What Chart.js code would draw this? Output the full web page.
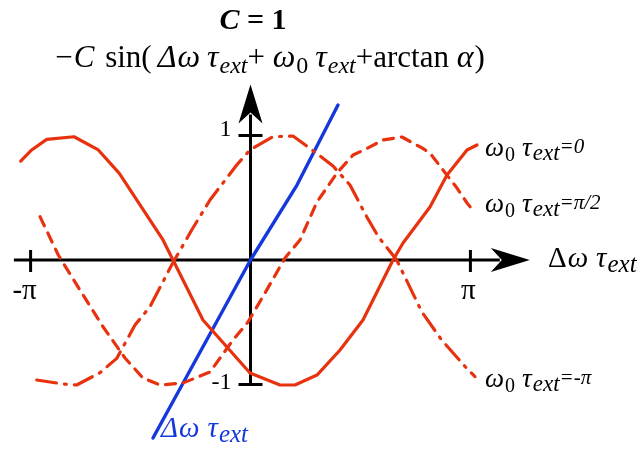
<!DOCTYPE html>
<html>
<head>
<meta charset="utf-8">
<script src="https://cdn.jsdelivr.net/npm/chart.js@4/dist/chart.umd.min.js"></script>
<style>
  html, body { margin: 0; padding: 0; background: #fff; }
  #wrap { width: 640px; height: 450px; }
</style>
</head>
<body>
<div id="wrap"><canvas id="chart" width="640" height="450"></canvas></div>
<script>
// phase curves -C sin(dw*t + w0*t + arctan a), C = 1, sampled as coarse polylines
const phaseZeroX = [-3.283, -3.126, -2.911, -2.521, -2.174, -1.874, -1.25, -1.107, -0.679, -0.007, 0.421, 0.636, 0.95, 1.279, 1.607, 2.036, 2.179, 2.564, 2.807, 3.093, 3.236];
const phaseZeroY = [0.795, 0.884, 0.969, 0.99, 0.884, 0.696, 0.161, 0, -0.482, -0.908, -1.004, -1.004, -0.924, -0.723, -0.482, 0, 0.137, 0.426, 0.683, 0.884, 0.924];

const phaseHalfPiX = [-3.007, -2.746, -2.436, -2.107, -1.793, -1.536, -1.293, -0.964, -0.579, -0.25, -0.036, 0.207, 0.493, 0.707, 0.95, 1.236, 1.464, 1.679, 1.893, 2.164, 2.45, 2.564, 2.75, 2.95, 3.093, 3.164];
const phaseHalfPiY = [0.348, 0.04, -0.241, -0.536, -0.787, -0.948, -1.004, -0.988, -0.9, -0.643, -0.498, -0.265, 0.016, 0.161, 0.466, 0.699, 0.843, 0.9, 0.964, 0.988, 0.9, 0.859, 0.723, 0.578, 0.458, 0.41];

const phaseMinusPiX = [-3.054, -2.674, -2.483, -2.15, -1.911, -1.65, -1.436, -1.126, -0.84, -0.579, -0.197, -0.007, 0.321, 0.607, 0.85, 1.179, 1.421, 1.66, 1.826, 2.089, 2.446, 2.731, 3.089, 3.207];
const phaseMinusPiY = [-0.964, -0.996, -1.004, -0.905, -0.79, -0.522, -0.375, -0.04, 0.241, 0.482, 0.763, 0.884, 0.99, 0.996, 0.897, 0.755, 0.602, 0.348, 0.187, 0, -0.415, -0.643, -0.87, -0.937];

// the straight line dw*t
const detuneX = [-1.393, 0, 0.664, 1.25];
const detuneY = [-1.43, 0, 0.602, 1.245];

const xTicks = [-Math.PI, Math.PI];
const xTickLabels = ['-π', 'π'];
const yTicks = [1, -1];
const yTickLabels = ['1', '-1'];

const RED = '#e8320f';
const BLUE = '#1438dc';
const SERIF = '"Liberation Serif", "DejaVu Serif", serif';

function toPoints(xs, ys) {
  return xs.map((x, i) => ({ x: x, y: ys[i] }));
}

// draws a run of text pieces, each with its own font and baseline shift
function drawRich(ctx, x, y, pieces, align, color) {
  ctx.save();
  ctx.fillStyle = color || '#000';
  ctx.textBaseline = 'alphabetic';
  ctx.textAlign = 'left';
  let total = 0;
  pieces.forEach(p => {
    ctx.font = p.font;
    p.w = ctx.measureText(p.text).width;
    total += p.w + (p.gap || 0);
  });
  let cx = x;
  if (align === 'center') cx = x - total / 2;
  if (align === 'right') cx = x - total;
  pieces.forEach(p => {
    ctx.font = p.font;
    ctx.fillText(p.text, cx, y + (p.dy || 0));
    cx += p.w + (p.gap || 0);
  });
  ctx.restore();
}

const it = s => 'italic ' + s + 'px ' + SERIF;
const rm = s => s + 'px ' + SERIF;

function phaseLabel(value) {
  return [
    { text: 'ω', font: it(27), gap: 1 },
    { text: '0', font: rm(20), dy: 5, gap: 7 },
    { text: 'τ', font: it(27), gap: 1 },
    { text: 'ext', font: it(23), dy: 4 },
    { text: '=' + value, font: it(21), dy: -3 }
  ];
}

function detuneLabel() {
  return [
    { text: 'ω', font: it(29), gap: 8 },
    { text: 'τ', font: it(29), gap: 1 },
    { text: 'ext', font: it(25), dy: 5 }
  ];
}

function arrowHead(ctx, tip, dir) {
  // stealth-style head pointing along dir (unit vector)
  const len = 39, half = 12, notch = 28;
  const nx = -dir.y, ny = dir.x;
  ctx.beginPath();
  ctx.moveTo(tip.x, tip.y);
  ctx.lineTo(tip.x - dir.x * len + nx * half, tip.y - dir.y * len + ny * half);
  ctx.lineTo(tip.x - dir.x * notch, tip.y - dir.y * notch);
  ctx.lineTo(tip.x - dir.x * len - nx * half, tip.y - dir.y * len - ny * half);
  ctx.closePath();
  ctx.fill();
}

const axesPlugin = {
  id: 'crossAxes',
  beforeDatasetsDraw(chart) {
    const ctx = chart.ctx;
    const xs = chart.scales.x, ys = chart.scales.y;
    const ox = xs.getPixelForValue(0), oy = ys.getPixelForValue(0);
    ctx.save();
    ctx.strokeStyle = '#000';
    ctx.fillStyle = '#000';
    ctx.lineWidth = 3;

    // horizontal axis
    const xEnd = xs.getPixelForValue(3.99);
    ctx.beginPath();
    ctx.moveTo(xs.getPixelForValue(-3.38), oy);
    ctx.lineTo(xEnd - 30, oy);
    ctx.stroke();
    arrowHead(ctx, { x: xEnd, y: oy }, { x: 1, y: 0 });

    // vertical axis
    const yTop = ys.getPixelForValue(1.41);
    ctx.beginPath();
    ctx.moveTo(ox, ys.getPixelForValue(-1));
    ctx.lineTo(ox, yTop + 30);
    ctx.stroke();
    arrowHead(ctx, { x: ox, y: yTop }, { x: 0, y: -1 });

    // tick marks
    xTicks.forEach(v => {
      const px = xs.getPixelForValue(v);
      ctx.beginPath();
      ctx.moveTo(px, oy - 10);
      ctx.lineTo(px, oy + 12);
      ctx.stroke();
    });
    yTicks.forEach(v => {
      const py = ys.getPixelForValue(v);
      ctx.beginPath();
      ctx.moveTo(ox - 12, py);
      ctx.lineTo(ox + 12, py);
      ctx.stroke();
    });

    // tick labels
    ctx.textBaseline = 'alphabetic';
    ctx.textAlign = 'center';
    ctx.font = rm(29);
    xTicks.forEach((v, i) => {
      const shift = xTickLabels[i].startsWith('-') ? -6 : -2;
      ctx.fillText(xTickLabels[i], xs.getPixelForValue(v) + shift, oy + 39);
    });
    ctx.font = rm(24);
    ctx.textAlign = 'right';
    yTicks.forEach((v, i) => {
      ctx.fillText(yTickLabels[i], ox - 19, ys.getPixelForValue(v) + (v > 0 ? 0 : 4));
    });
    ctx.restore();
  },
  afterDraw(chart) {
    const ctx = chart.ctx;
    const oy = chart.scales.y.getPixelForValue(0);

    // title lines
    drawRich(ctx, 253, 29, [
      { text: 'C', font: 'italic bold 30px ' + SERIF },
      { text: ' = 1', font: 'bold 30px ' + SERIF }
    ], 'center');
    drawRich(ctx, 270, 67, [
      { text: '−', font: rm(31), gap: 1 },
      { text: 'C', font: it(31), gap: 3 },
      { text: ' sin(', font: rm(31), gap: 6 },
      { text: 'Δ', font: it(32), gap: 1 },
      { text: 'ω', font: it(32), gap: 7 },
      { text: 'τ', font: it(32), gap: 1 },
      { text: 'ext', font: it(24), dy: 6 },
      { text: '+ ', font: rm(31) },
      { text: 'ω', font: it(32), gap: 1 },
      { text: '0', font: rm(24), dy: 6, gap: 7 },
      { text: 'τ', font: it(32), gap: 1 },
      { text: 'ext', font: it(24), dy: 6 },
      { text: '+arctan ', font: rm(31) },
      { text: 'α', font: it(32), gap: 1 },
      { text: ')', font: rm(31) }
    ], 'center');

    // curve labels
    drawRich(ctx, 485, 156, phaseLabel('0'), 'left');
    drawRich(ctx, 485, 212, phaseLabel('π/2'), 'left');
    drawRich(ctx, 485, 387, phaseLabel('-π'), 'left');

    // axis label and line label
    drawRich(ctx, 548, oy + 7, [{ text: 'Δ', font: rm(29), gap: 1 }].concat(detuneLabel()), 'left');
    drawRich(ctx, 161, 437, [{ text: 'Δ', font: it(29), gap: 1 }].concat(detuneLabel()), 'left', BLUE);
  }
};

new Chart(document.getElementById('chart'), {
  type: 'scatter',
  data: {
    datasets: [
      {
        data: toPoints(phaseZeroX, phaseZeroY),
        borderColor: RED, borderWidth: 3.2
      },
      {
        data: toPoints(phaseHalfPiX, phaseHalfPiY),
        borderColor: RED, borderWidth: 3.2, borderDash: [10, 8]
      },
      {
        data: toPoints(phaseMinusPiX, phaseMinusPiY),
        borderColor: RED, borderWidth: 3.2, borderDash: [20, 8, 2, 8]
      },
      {
        data: toPoints(detuneX, detuneY),
        borderColor: BLUE, borderWidth: 3.4
      }
    ].map(d => Object.assign(d, {
      showLine: true, pointRadius: 0, borderCapStyle: 'round', borderJoinStyle: 'round', tension: 0
    }))
  },
  options: {
    responsive: false,
    animation: false,
    layout: { padding: 0 },
    plugins: { legend: { display: false }, tooltip: { enabled: false }, title: { display: false } },
    scales: {
      x: { type: 'linear', min: -3.5786, max: 5.5643, display: false },
      y: { type: 'linear', min: -1.526, max: 2.0884, display: false }
    }
  },
  plugins: [axesPlugin]
});
</script>
</body>
</html>
